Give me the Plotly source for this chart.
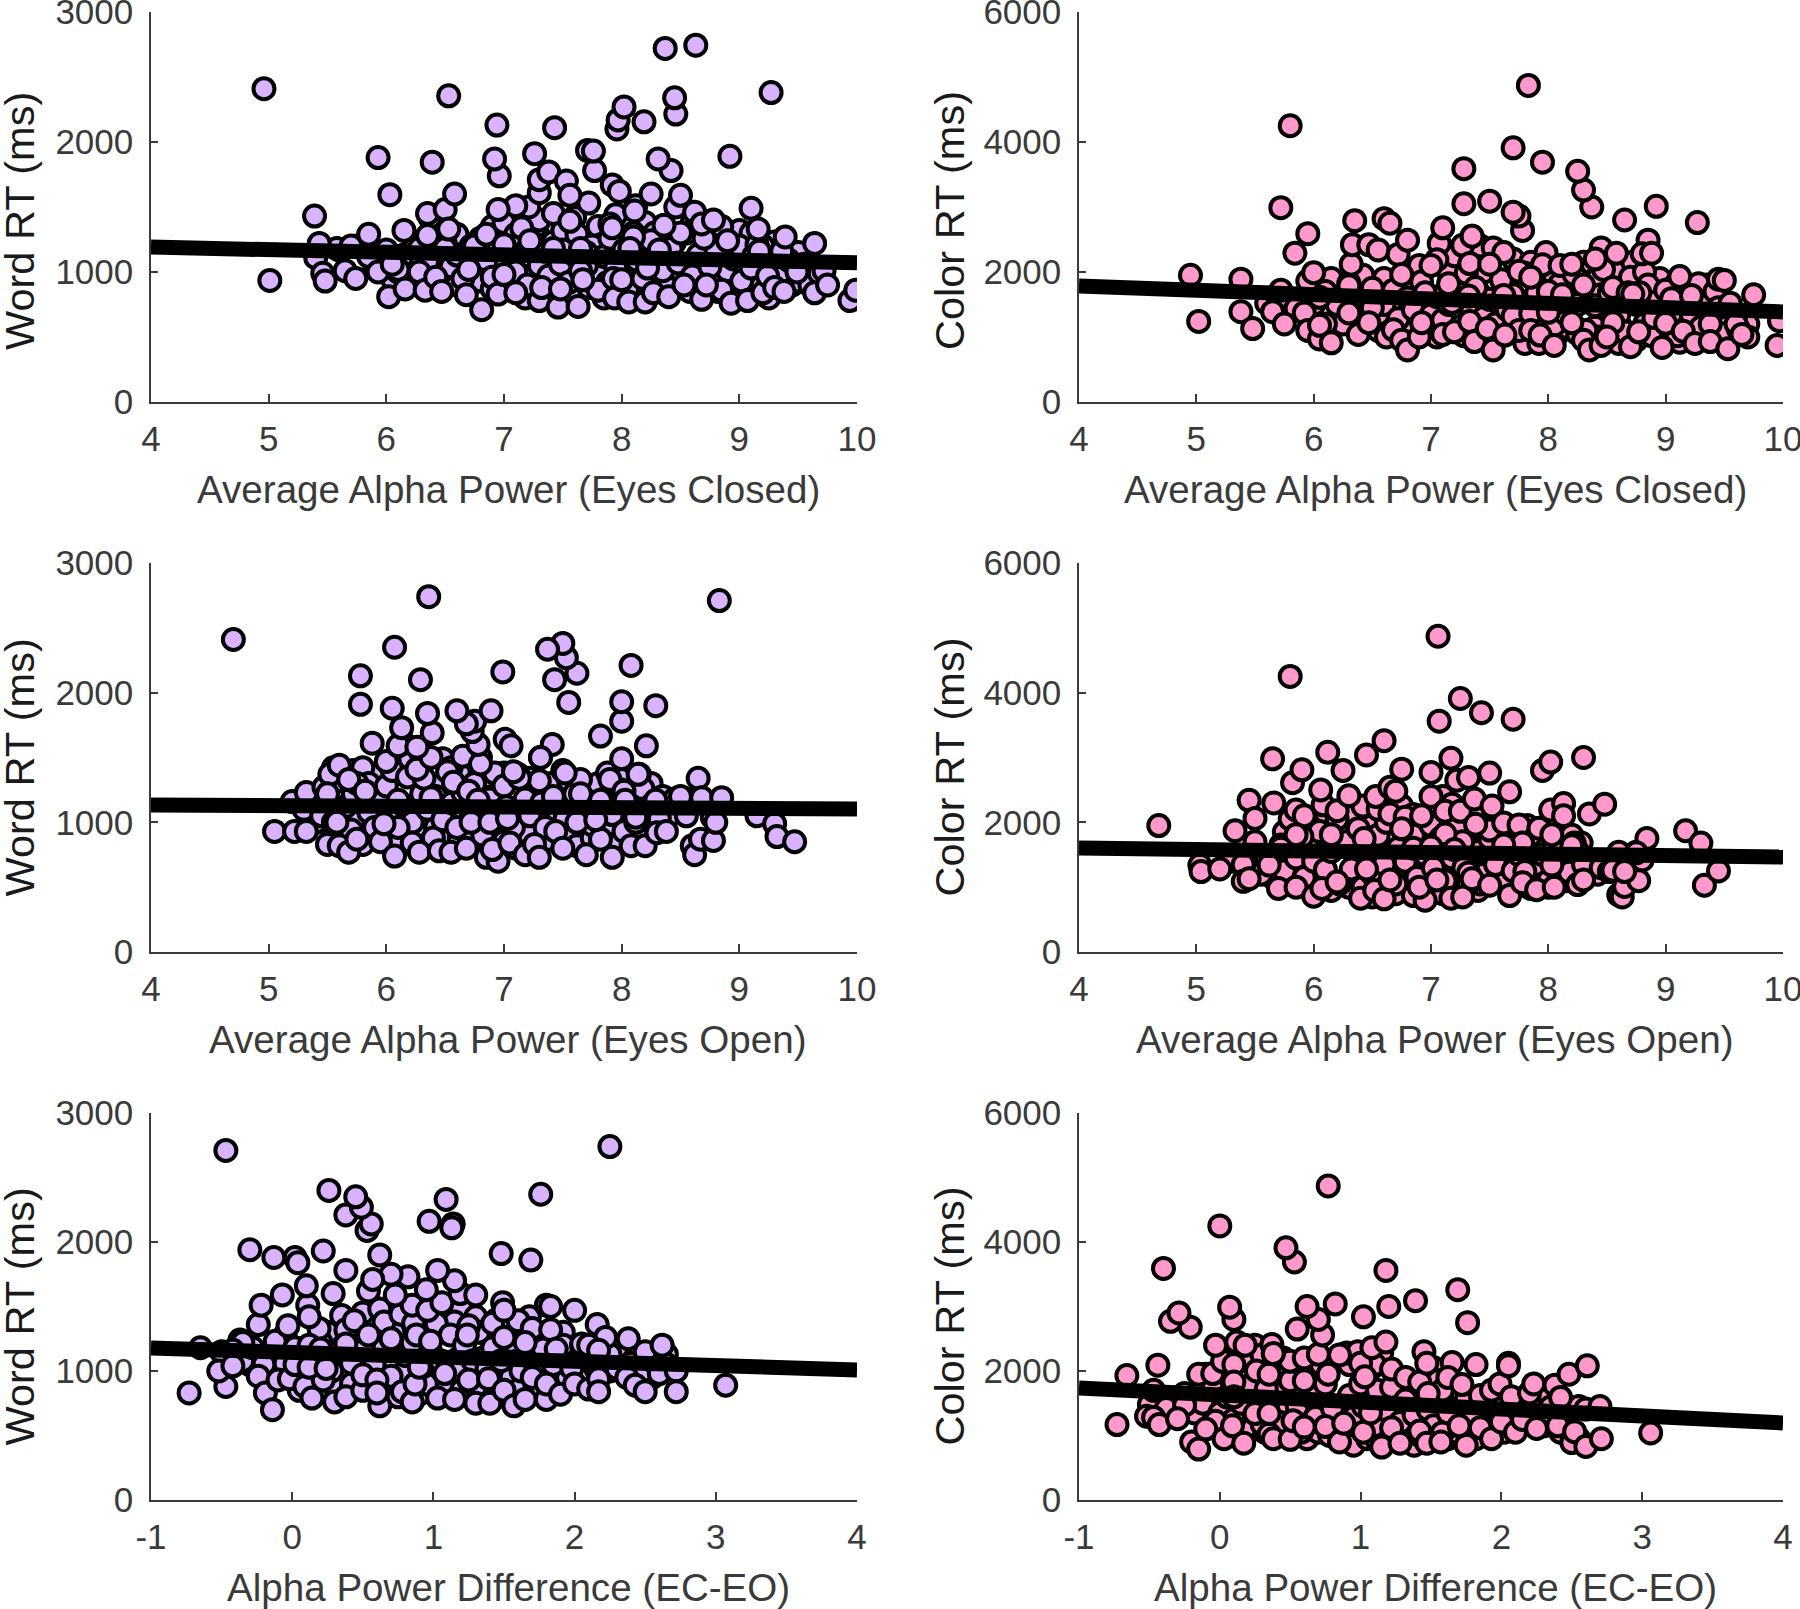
import plotly.graph_objects as go
from plotly.subplots import make_subplots

# values: (alpha power, RT), drawn back to front
word_ec = [
    (6.05,950),(6.2,950),(6.45,1040),(6.6,900),(6.8,930),(6.9,870),(7.08,920),(7.18,800),(7.25,980),(7.4,820),(7.5,960),(7.58,800),
    (7.72,880),(7.78,1000),(7.85,800),(7.88,920),(8.03,1040),(8.12,880),(8.15,1020),(8.3,900),(8.38,950),(8.45,1030),(8.58,850),(8.62,1050),
    (8.78,960),(8.82,850),(8.9,1010),(8.98,830),(9.12,920),(9.18,1050),(9.25,800),(9.4,1010),(9.45,900),(6.4,1250),(6.6,1290),(6.9,1350),
    (7.25,1300),(7.45,1350),(7.6,1420),(7.8,1350),(7.95,1440),(8.2,1380),(8.4,1280),(8.6,1380),(8.8,1300),(9.0,1320),(9.1,1300),(9.3,1230),
    (9.5,1150),(5.9,1050),(6.25,1070),(6.65,1070),(7.15,1160),(7.28,1210),(7.58,1240),(7.82,1210),(8.28,1300),(8.45,1230),(8.72,1170),
    (5.6,1170),(5.75,1200),(5.85,1120),(6.0,1170),(6.1,1000),(6.15,1130),(6.25,1200),(6.3,1090),(6.4,1150),(6.5,1220),
    (6.55,1040),(6.6,1130),(6.65,950),(6.72,1200),(6.8,1260),(6.85,1090),(6.9,960),(6.95,1180),(7.02,1080),(7.05,1250),
    (7.1,1000),(7.15,1310),(7.2,900),(7.22,1120),(7.3,1050),(7.35,1160),(7.38,970),(7.42,1230),(7.48,1060),(7.5,1320),
    (7.55,920),(7.6,1130),(7.62,1290),(7.7,1050),(7.75,1200),(7.8,860),(7.85,1120),(7.9,1260),(7.95,1030),(8.02,1170),
    (8.05,860),(8.1,1300),(8.13,1090),(8.18,950),(8.25,1240),(8.3,1110),(8.35,1010),(8.42,1180),(8.48,1070),(8.55,1300),
    (8.6,970),(8.65,1130),(8.75,1040),(8.8,1180),(8.85,860),(8.95,1100),(9.0,1200),(9.05,990),(9.12,1120),(9.2,1200),
    (9.28,1060),(9.35,960),(9.42,1090),(9.5,930),(9.55,1060),(9.6,900),(9.68,990),(9.72,1010),
    (6.1,1020),(6.35,1080),(6.7,1150),(7.0,1380),(7.1,1290),(7.3,1400),(7.5,1170),(7.7,1150),(7.9,1370),(8.1,1270),
    (8.5,1300),(8.7,1260),(8.85,1350),(9.15,1210),(5.58,1180),(6.15,1320),(6.28,1180),(6.5,1180),(6.75,1200),(6.85,1290),
    (7.0,1210),(7.15,1340),(7.22,1240),(7.42,1180),(7.65,1180),(8.07,1180),(8.32,1170),(8.9,1240),(9.17,1160),(9.36,1160),
    (5.39,1430),(5.43,1220),(5.7,1200),(5.85,1290),(6.37,1420),(6.35,1450),(6.5,1480),(6.53,1330),(6.35,1280),
    (7.21,1500),(7.1,1510),(6.95,1480),(7.42,1450),(7.56,1390),(7.72,1530),(7.92,1340),(8.12,1510),(8.11,1470),
    (8.36,1360),(8.46,1500),(8.5,1590),(8.62,1460),(8.68,1370),(8.78,1400),(9.1,1490),(9.16,1330),(9.39,1270),(9.64,1220),
    (7.3,1610),(7.3,1710),(7.38,1770),(7.53,1700),(7.56,1590),(7.92,1670),(7.98,1620),(8.25,1600),(6.58,1600),(6.03,1595),
    (8.42,1780),(8.31,1870),(8.92,1890),(7.77,1780),(7.71,1935),(7.76,1930),(7.26,1910),(6.96,1740),(6.92,1870),(6.39,1845),(5.93,1880),
    (7.43,2110),(6.94,2130),(8.19,2155),(7.96,2100),(7.97,2170),(8.02,2270),(8.46,2215),(8.45,2340),(6.53,2355),(9.27,2380),(8.63,2745),(8.37,2720),(4.96,2410),
    (5.01,935),(5.4,1110),(5.46,990),(5.48,930),(5.65,1010),(5.74,950),(5.93,1000),(6.02,810),(6.05,1060),(6.16,870),(6.28,1000),
    (6.33,860),(6.42,960),(6.47,850),(6.68,825),(6.7,1020),(6.81,710),(6.95,830),(7.0,980),(7.1,840),(7.3,780),(7.32,880),
    (7.46,730),(7.48,870),(7.63,735),(7.65,1010),(7.67,940),(7.93,950),(7.94,800),(8.0,940),(8.06,770),(8.2,770),(8.22,1030),
    (8.27,840),(8.4,810),(8.53,900),(8.68,790),(8.72,900),(8.93,760),(9.02,930),(9.07,780),(9.1,1030),(9.2,840),(9.24,970),
    (9.3,880),(9.38,850),(9.49,1000),(9.64,840),(9.75,900),(9.94,780),(9.99,860),
]
color_ec = [
    (6.1,1100),(6.25,1200),(6.4,1280),(6.55,1100),(6.62,1000),(6.85,1150),(6.98,1100),(7.05,1000),(7.15,1100),(7.22,1300),(7.28,1020),(7.42,1050),
    (7.58,1000),(7.7,1150),(7.8,900),(7.88,1200),(8.0,1000),(8.08,1050),(8.15,1150),(8.25,1050),(8.4,1150),(8.42,1000),(8.6,900),(8.62,1150),
    (8.75,950),(8.82,1200),(8.88,1020),(9.05,1000),(9.12,920),(9.2,1200),(9.32,1020),(9.45,1130),(9.55,1250),(9.7,1200),(6.15,1900),(6.42,1950),
    (6.6,1900),(6.85,1750),(6.9,2100),(7.15,2000),(7.2,2250),(7.42,2400),(7.45,2000),(7.7,2200),(7.85,2150),(8.05,1950),(8.15,2000),(8.3,2150),
    (8.42,1900),(8.6,2050),(8.72,2150),(8.95,1900),(9.08,1800),(9.3,1600),(9.35,1800),(6.9,1500),(7.3,1500),(7.7,1650),(8.45,1650),(9.6,1350),
    (5.6,1520),(5.7,1600),(5.85,1440),(6.0,1500),(6.1,1700),(6.2,1500),(6.3,1830),(6.4,1640),(6.5,1750),(6.55,1350),
    (6.6,1500),(6.68,1720),(6.72,1280),(6.8,1600),(6.85,1420),(6.92,1850),(7.0,1340),(7.05,1620),(7.1,1260),(7.15,1500),
    (7.2,1790),(7.25,1160),(7.3,1980),(7.35,1420),(7.4,1700),(7.45,1300),(7.5,1580),(7.55,1200),(7.6,1880),(7.65,1420),
    (7.7,1320),(7.75,1100),(7.8,1980),(7.85,1360),(7.9,1680),(8.0,1500),(8.05,1180),(8.1,1820),(8.15,1350),(8.22,1960),
    (8.28,1620),(8.32,1100),(8.4,1480),(8.47,2040),(8.52,1680),(8.6,1340),(8.65,1080),(8.7,1920),(8.75,1500),(8.82,2000),
    (8.85,1800),(8.92,1540),(9.0,1720),(9.05,1360),(9.1,1020),(9.18,1640),(9.22,1340),(9.28,1820),(9.3,1150),(9.42,1700),
    (9.45,1450),(9.5,1050),(9.55,1520),(9.62,1120),(9.7,1000),(8.02,1580),(8.1,1540),(8.25,1500),(8.55,1760),(8.68,1680),
    (8.78,1680),(7.62,1640),(7.38,1760),(7.18,1530),(6.95,1680),(6.5,1450),(6.3,1790),(6.05,1610),(6.1,1200),(5.92,1370),
    (4.95,1950),(5.38,1890),(5.72,1720),(5.95,1860),(6.0,1990),(6.32,2120),(6.33,2420),(6.47,2420),(6.55,2340),
    (7.07,2440),(7.27,2410),(7.35,2550),(7.53,2370),(7.62,2300),(6.72,2270),(7.98,2300),(8.45,2370),(8.58,2290),(8.85,2490),(8.8,2280),(8.88,2290),
    (6.75,1960),(7.05,2190),(7.0,2100),(7.33,2130),(7.5,2120),(7.95,2110),(8.1,2100),(8.2,2120),(8.4,2200),(7.75,2010),(7.85,1920),(8.3,1800),
    (9.12,1930),(9.45,1890),(9.5,1870),(9.75,1650),(7.15,1820),(7.32,1630),(8.0,1700),(8.12,1650),(8.72,1660),(9.05,1590),(9.22,1640),
    (5.84,2290),(5.95,2590),(6.8,2490),(7.1,2680),(7.35,2550),(6.35,2790),(6.6,2820),(6.65,2750),(9.27,2760),(8.92,3010),(8.65,2800),
    (5.72,2990),(7.78,2640),(7.75,2860),(7.7,2920),(7.5,3090),(7.28,3050),(8.37,3000),(8.3,3260),(8.25,3550),(7.28,3590),(7.95,3690),(7.7,3910),(5.8,4250),(7.83,4870),
    (5.02,1240),(5.38,1390),(5.48,1130),(5.65,1390),(5.75,1200),(5.95,1100),(6.05,970),(6.05,1180),(6.15,910),(6.3,1370),(6.38,1040),
    (6.47,1220),(6.68,1110),(6.75,950),(6.8,800),(6.9,1000),(6.92,1220),(7.1,1040),(7.2,1080),(7.33,1240),(7.37,930),(7.48,1130),
    (7.53,800),(7.63,1030),(7.85,1100),(7.92,900),(7.93,1030),(8.05,870),(8.0,1380),(8.2,1220),(8.3,950),(8.35,800),(8.45,870),
    (8.55,1220),(8.5,1000),(8.7,850),(8.77,1080),(8.9,1300),(8.97,840),(9.0,1210),(9.15,1090),(9.25,900),(9.38,1200),(9.38,930),
    (9.53,820),(9.6,1200),(9.65,1040),(9.95,870),(9.97,1250),
]
word_eo = [
    (5.4,1000),(5.55,900),(5.65,1230),(5.75,1050),(5.8,830),(5.92,1130),(6.0,900),(6.12,1050),(6.25,920),(6.35,830),(6.42,960),(6.5,850),
    (6.62,880),(6.72,920),(6.8,1050),(6.92,920),(7.0,850),(7.1,800),(7.15,1020),(7.22,900),(7.38,870),(7.42,1080),(7.55,880),(7.62,820),
    (7.68,1100),(7.75,880),(7.88,950),(7.98,850),(8.12,920),(8.22,1020),(8.35,1100),(8.4,1050),(8.55,1050),(5.55,1420),(5.72,1400),(5.95,1380),
    (6.2,1490),(6.3,1520),(6.45,1280),(6.48,1490),(6.62,1380),(6.9,1280),(7.0,1380),(7.22,1340),(7.4,1300),(7.7,1270),(7.8,1300),(7.98,1340),
    (8.1,1220),(8.25,1300),(8.35,1200),(6.9,1200),(7.3,1100),(7.6,1130),
    (5.3,1100),(5.4,1200),(5.45,1050),(5.5,1250),(5.55,1000),(5.6,1320),(5.65,1120),(5.7,940),(5.72,1220),(5.8,1420),
    (5.85,1080),(5.85,1300),(5.9,960),(5.95,1180),(6.0,1280),(6.02,1020),(6.05,1400),(6.1,870),(6.15,1130),(6.18,1350),
    (6.22,1000),(6.3,1220),(6.32,1340),(6.35,1100),(6.4,880),(6.42,1200),(6.48,1020),(6.55,1420),(6.56,1150),(6.6,960),
    (6.65,1230),(6.72,1080),(6.75,1300),(6.8,1500),(6.82,900),(6.88,1180),(6.92,1380),(6.95,1020),(7.0,1280),(7.02,1120),
    (7.08,960),(7.12,1370),(7.18,1180),(7.22,1050),(7.3,1320),(7.32,1150),(7.35,960),(7.42,1200),(7.5,1400),(7.52,1030),
    (7.55,1320),(7.6,1220),(7.65,1330),(7.7,1100),(7.75,980),(7.85,1180),(7.88,1380),(7.92,1060),(8.0,1250),(8.02,930),
    (8.06,1150),(8.12,1000),(8.15,1370),(8.18,1260),(8.25,1130),(8.32,1030),(8.45,1180),(8.55,1180),(8.72,1150),(8.77,1040),
    (5.2,1160),(5.32,1230),(5.47,1270),(5.52,1370),(5.6,1440),(5.75,1300),(5.68,1330),(5.5,1220),(5.82,1240),
    (6.1,1170),(6.0,1470),(6.26,1410),(6.38,1500),(6.52,1390),(6.57,1310),(6.65,1510),(6.8,1450),(6.38,1190),(6.7,1240),(6.78,1170),
    (7.13,1340),(7.31,1500),(7.08,1390),(7.52,1380),(7.65,1220),(7.82,1170),(7.9,1330),(8.0,1490),(8.02,1240),(8.03,1170),(8.14,1370),(8.29,1170),
    (6.15,1610),(5.88,1610),(6.1,1590),(6.26,1580),(7.01,1640),(7.06,1590),(7.41,1600),(7.82,1665),(8.21,1590),(7.31,1500),
    (6.78,1600),(6.73,1700),(6.75,1780),(6.68,1760),(6.39,1690),(6.13,1730),(8.0,1780),(8.29,1900),(8.0,1930),(7.55,1925),(6.89,1860),(6.6,1860),(6.35,1840),(6.05,1880),(5.78,1910),
    (8.08,2210),(6.29,2100),(5.78,2130),(6.99,2160),(7.43,2100),(7.62,2150),(7.53,2270),(7.5,2380),(7.37,2335),(6.07,2350),(8.83,2710),(6.36,2740),(4.7,2410),
    (5.05,930),(5.22,930),(5.32,930),(5.5,830),(5.6,820),(5.68,770),(5.75,870),(5.95,850),(6.07,740),(6.1,960),(6.22,840),(6.28,770),
    (6.45,780),(6.55,770),(6.68,800),(6.85,730),(6.95,700),(6.9,790),(7.05,840),(7.18,750),(7.26,830),(7.3,730),(7.44,930),(7.5,800),
    (7.7,750),(7.82,870),(7.92,730),(8.08,820),(8.2,820),(8.3,920),(8.38,930),(8.6,820),(8.62,750),(8.67,870),(8.78,860),(8.8,1000),
    (8.65,1340),(8.68,1190),(8.85,1190),(8.5,1200),(9.15,1050),(9.3,990),(9.32,890),(9.47,850),
    (5.58,1000),(5.98,990),(6.72,1000),(6.88,1000),(7.03,1030),(7.62,1000),(7.78,1020),(8.12,1040),
]
color_eo = [
    (5.45,1500),(5.55,1350),(5.65,1150),(5.8,1200),(5.95,1000),(6.1,1100),(6.15,950),(6.3,1000),(6.35,1150),(6.4,1450),(6.5,850),(6.58,1200),
    (6.7,900),(6.75,1250),(6.82,1050),(6.92,1200),(7.0,950),(7.1,900),(7.15,1280),(7.22,1000),(7.4,950),(7.42,1050),(7.58,1200),(7.65,1100),
    (7.72,1000),(7.85,980),(7.95,1200),(8.0,1000),(8.15,1100),(8.2,1300),(8.35,1350),(8.42,1200),(5.75,1850),(5.8,2050),(6.0,2000),(6.1,2150),
    (6.2,1900),(6.32,2100),(6.42,2250),(6.5,1950),(6.6,2200),(6.75,2250),(6.85,1950),(6.95,1800),(7.08,2000),(7.1,2400),(7.18,2280),(7.3,2100),
    (7.4,2150),(7.55,2000),(7.6,1800),(7.72,1850),(7.82,1950),(8.2,1800),(8.28,1680),
    (5.3,1400),(5.4,1350),(5.5,1700),(5.55,1200),(5.6,1450),(5.72,1650),(5.75,1250),(5.85,1450),(5.92,1150),(5.95,1720),
    (6.0,1400),(6.05,1860),(6.1,1270),(6.15,1550),(6.2,2050),(6.22,1050),(6.28,1700),(6.32,1280),(6.38,1900),(6.42,1000),
    (6.45,1550),(6.5,1200),(6.55,1800),(6.6,1350),(6.62,2000),(6.7,1050),(6.72,1600),(6.78,1400),(6.85,1800),(6.88,1150),
    (6.95,1500),(7.0,1950),(7.02,1300),(7.08,1750),(7.12,1100),(7.18,1450),(7.22,1950),(7.28,1300),(7.32,1050),(7.4,1550),
    (7.42,1900),(7.45,1200),(7.5,1750),(7.55,1350),(7.62,1050),(7.65,1650),(7.7,1250),(7.75,1500),(7.82,1150),(7.85,1800),
    (7.9,1350),(7.95,1500),(8.0,1100),(8.05,1650),(8.12,1400),(8.18,1230),(8.22,1680),(8.25,1550),(8.3,1350),(8.45,1300),
    (8.52,1240),(8.62,1500),(8.68,1100),(8.75,1540),(8.8,1420),(5.9,1780),(6.55,2200),(6.85,2120),(7.27,1700),(7.5,1880),
    (4.68,1950),(5.33,1870),(5.45,2340),(5.5,2060),(5.66,2300),(5.85,2190),(5.92,2100),(6.08,2270),(6.2,2180),(6.3,2410),
    (6.53,2400),(6.65,2540),(6.7,2480),(6.65,2130),(6.78,2080),(6.92,2100),(7.0,2400),(7.12,2170),(7.25,2170),(7.37,2360),(7.52,2250),(7.67,2470),
    (5.82,2610),(5.9,2810),(6.06,2500),(6.25,2800),(6.75,2820),(7.0,2770),(7.22,2650),(7.32,2690),(7.5,2760),(7.95,2800),(8.02,2930),(8.3,3000),
    (7.17,2990),(5.65,2980),(6.45,3040),(6.12,3080),(6.6,3260),(7.7,3590),(7.07,3560),(7.43,3690),(7.25,3910),(5.8,4250),(7.06,4870),
    (8.02,2190),(8.13,2290),(8.13,2100),(8.35,2130),(8.48,2280),(7.62,1990),(7.75,1960),(7.92,1910),(8.03,1810),(7.38,1970),(9.17,1870),(9.3,1680),
    (8.84,1750),(6.15,1810),(5.85,1810),(7.78,1680),(6.43,1750),(6.75,1900),(7.12,1820),(5.72,1600),(6.85,1600),(7.0,1620),(7.2,1580),(7.62,1650),(8.2,1640),(8.6,1540),(8.75,1530),
    (5.03,1340),(5.04,1240),(5.2,1280),(5.4,1090),(5.45,1130),(5.62,1340),(5.7,980),(5.85,1000),(6.0,860),(6.07,980),(6.2,1080),(6.4,830),
    (6.45,1280),(6.52,950),(6.6,820),(6.65,1110),(6.85,870),(6.95,800),(6.9,1000),(7.05,1110),(7.17,830),(7.27,850),(7.32,1220),(7.35,1130),
    (7.5,1030),(7.67,870),(7.8,1240),(7.78,1070),(7.9,960),(8.05,1000),(8.03,1340),(8.25,1040),(8.3,1110),(8.6,880),(8.63,850),(8.65,1010),
    (8.77,1100),(8.55,1260),(9.33,1030),(9.45,1250),(8.65,1240),
]
word_diff = [
    (-0.3,1050),(-0.15,1130),(-0.05,1280),(0.05,850),(0.12,950),(0.2,850),(0.3,880),(0.35,1270),(0.42,900),(0.55,880),(0.68,1080),(0.75,800),
    (0.8,1000),(0.9,820),(0.95,900),(1.0,1060),(1.1,880),(1.2,850),(1.18,1100),(1.3,880),(1.35,1100),(1.45,800),(1.45,1000),(1.55,950),
    (1.6,850),(1.72,880),(1.85,950),(1.95,950),(2.05,1000),(2.15,1020),(2.25,1000),(2.35,1100),(2.45,1120),(2.55,950),(2.65,1130),(0.25,1300),
    (0.5,1450),(0.62,1480),(0.9,1400),(1.1,1470),(1.2,1480),(1.3,1420),(1.38,1280),(1.68,1420),(1.92,1300),(2.2,1250),(2.3,1180),(2.05,1120),
    (1.75,1250),(0.95,1340),(1.15,1380),(1.45,1400),
    (-0.45,1120),(-0.35,1080),(-0.28,1180),(-0.2,1050),(-0.12,1230),(-0.05,1060),(0.02,1180),(0.08,980),(0.15,1100),(0.2,1230),
    (0.28,1000),(0.33,1150),(0.42,1060),(0.45,1280),(0.52,1180),(0.58,1050),(0.65,1180),(0.7,960),(0.72,1300),(0.8,1120),
    (0.85,1220),(0.92,1030),(0.98,1150),(1.02,1370),(1.05,1080),(1.12,1280),(1.18,1000),(1.22,1200),(1.28,1080),(1.32,1300),
    (1.38,1020),(1.42,1180),(1.48,1080),(1.52,1360),(1.58,1130),(1.62,1000),(1.68,1200),(1.72,1060),(1.78,1170),(1.85,1050),
    (1.92,1200),(1.98,1020),(2.05,1190),(2.12,1080),(2.2,1000),(2.25,1130),(2.3,1020),(2.4,1060),(2.48,1000),(2.55,1080),(2.65,1050),
    (-0.37,1240),(-0.35,1220),(-0.5,1150),(-0.42,1160),(-0.24,1360),(-0.03,1350),(0.19,1330),(0.35,1430),(0.38,1320),(0.44,1390),(0.65,1380),(0.77,1440),
    (0.86,1370),(1.25,1350),(1.42,1370),(1.6,1390),(1.7,1330),(1.83,1320),(2.16,1360),(2.22,1260),(2.05,1210),(2.1,1200),(0.54,1280),(0.88,1280),(1.55,1230),
    (0.12,1200),(0.38,1210),(0.7,1250),(0.98,1230),(1.24,1280),(1.5,1260),(-0.65,1180),(1.65,1220),(1.87,1170),(2.17,1160),(2.38,1250),(2.5,1150),(2.62,1200),
    (-0.22,1510),(-0.07,1590),(0.11,1510),(0.12,1420),(0.85,1510),(0.96,1470),(1.49,1530),(1.5,1470),(1.8,1510),(1.83,1500),(2.0,1470),(1.06,1530),
    (0.29,1600),(0.54,1620),(0.73,1590),(0.95,1630),(1.19,1600),(1.3,1590),(0.1,1660),(1.15,1700),(1.03,1780),(0.82,1730),(0.7,1750),(0.57,1710),(0.38,1780),
    (1.69,1860),(1.48,1910),(0.62,1900),(0.22,1930),(0.02,1880),(0.04,1840),(-0.13,1880),(-0.3,1940),(1.14,2140),(1.13,2110),(0.97,2160),(1.76,2370),(1.09,2330),
    (0.53,2090),(0.56,2140),(0.38,2210),(0.49,2270),(0.45,2350),(0.26,2400),(2.25,2740),(-0.47,2710),
    (-0.73,830),(-0.47,880),(-0.52,1000),(-0.42,1040),(-0.24,960),(-0.19,830),(-0.14,700),(-0.1,930),(-0.02,940),(0.09,880),(0.14,790),
    (0.22,930),(0.3,760),(0.38,800),(0.5,850),(0.5,970),(0.6,930),(0.62,730),(0.6,830),(0.78,840),(0.85,760),(0.87,900),(1.03,790),
    (1.08,980),(1.15,780),(1.25,930),(1.3,750),(1.4,750),(1.39,940),(1.5,850),(1.57,730),(1.65,780),(1.7,950),(1.8,780),(1.8,900),
    (1.9,820),(2.0,900),(2.1,860),(2.17,940),(2.17,840),(2.37,950),(2.43,890),(2.5,840),(2.6,980),(2.72,1000),(2.72,840),(3.07,890),
    (0.02,1050),(0.12,1030),(0.24,1020),(0.2,1170),(0.9,1030),
]
color_diff = [
    (-0.48,1600),(-0.3,1500),(-0.18,1350),(-0.05,1150),(0.05,1050),(0.12,1150),(0.18,1100),(0.22,1400),(0.32,1050),(0.42,1020),(0.48,1400),(0.62,950),
    (0.7,1050),(0.78,1000),(0.9,950),(0.95,850),(1.05,950),(1.12,920),(1.2,950),(1.32,950),(1.38,850),(1.52,950),(1.62,950),(1.7,980),
    (1.82,950),(1.9,1100),(2.02,1050),(2.1,1250),(2.2,1220),(2.3,1150),(2.45,1100),(2.55,950),(-0.1,1950),(0.05,2300),(0.12,2450),(0.25,2400),
    (0.3,2050),(0.45,2200),(0.48,1950),(0.65,2000),(0.72,2100),(0.92,2100),(1.08,2050),(1.12,2200),(1.28,1850),(1.35,1700),(1.52,2050),(1.55,1850),
    (1.72,1650),(1.9,1500),(2.12,1550),(2.3,1600),(1.0,1300),(0.6,1700),
    (-0.5,1480),(-0.38,1420),(-0.25,1650),(-0.12,1500),(-0.05,1720),(0.0,1350),(0.05,1600),(0.1,1250),(0.15,1500),(0.22,1780),
    (0.28,1500),(0.3,1180),(0.4,1650),(0.43,1200),(0.5,1850),(0.55,1450),(0.58,1050),(0.65,1600),(0.68,1280),(0.75,1800),
    (0.8,1420),(0.85,1050),(0.92,1620),(0.95,1280),(1.0,1800),(1.02,1450),(1.1,1150),(1.12,1700),(1.18,1400),(1.22,1750),
    (1.28,1200),(1.32,1550),(1.38,1320),(1.42,1000),(1.48,1400),(1.52,1150),(1.58,1700),(1.62,1350),(1.68,1050),(1.75,1550),
    (1.8,1300),(1.88,1480),(1.95,1150),(2.02,1450),(2.08,1150),(2.12,1320),(2.2,1520),(2.3,1300),(2.35,1440),(2.42,1050),
    (2.45,1360),(2.55,1450),(2.6,1410),(0.9,2280),(0.98,2300),(1.15,2280),(1.1,2100),(0.2,2150),(0.3,2250),(0.5,2150),
    (-0.66,1930),(-0.44,2090),(-0.47,1700),(-0.15,1950),(-0.05,1960),(0.02,2150),(0.1,2100),(0.1,1830),(0.1,1600),(0.26,2000),(0.33,1720),(0.35,1950),
    (0.38,2270),(0.6,2200),(0.6,1850),(0.7,2260),(0.85,2250),(0.77,1950),(1.0,2120),(1.03,1910),(1.22,2030),(1.32,1900),(1.42,1830),(1.48,1650),
    (1.45,2300),(1.47,2120),(1.65,2130),(1.62,1900),(1.72,1790),(1.82,2100),(1.85,1620),(1.93,1700),(1.99,1800),(2.05,2120),(2.05,2080),(2.07,1600),
    (2.2,1660),(2.23,1800),(2.38,1780),(2.42,1590),(2.48,1950),(2.61,2080),
    (-0.03,2400),(0.18,2400),(0.37,2410),(0.38,2270),(1.08,2360),(1.18,2450),(0.73,2560),(0.55,2650),(-0.21,2680),(-0.35,2770),(-0.29,2900),(0.1,2800),
    (0.7,2800),(1.02,2840),(1.76,2750),(0.07,2990),(0.62,3000),(0.82,3040),(1.2,3000),(1.39,3090),(1.69,3260),(1.18,3560),(-0.4,3590),(0.53,3690),(0.47,3910),(0.0,4250),(0.77,4870),
    (-0.73,1170),(-0.52,1300),(-0.47,1280),(-0.43,1170),(-0.25,1470),(-0.3,1260),(-0.2,900),(-0.15,790),(-0.03,1220),(-0.1,1100),(0.03,950),
    (0.09,1150),(0.17,880),(0.25,1340),(0.35,1020),(0.35,1340),(0.38,950),(0.5,940),(0.52,1230),(0.6,1130),(0.75,1140),(0.85,900),(0.88,1190),
    (1.02,1050),(1.07,1350),(1.15,820),(1.22,1120),(1.28,880),(1.42,1070),(1.47,880),(1.58,1040),(1.57,900),(1.75,850),(1.7,1150),(1.85,1120),
    (1.93,950),(2.0,1210),(2.1,1050),(2.15,1250),(2.25,1110),(2.4,1150),(2.5,890),(2.52,1060),(2.6,830),(2.7,1450),(2.71,950),(3.06,1040),
]

# fit lines, end values read at the axis limits
fit_x_ec = [4, 10]
fit_x_eo = [4, 10]
fit_x_diff = [-1, 4]
fit_word_ec = [1192, 1071]
fit_color_ec = [1785, 1385]
fit_word_eo = [1134, 1103]
fit_color_eo = [1604, 1465]
fit_word_diff = [1178, 1008]
fit_color_diff = [1736, 1194]

alpha_ticks = [4, 5, 6, 7, 8, 9, 10]
diff_ticks = [-1, 0, 1, 2, 3, 4]
word_ticks = [0, 1000, 2000, 3000]
color_ticks = [0, 2000, 4000, 6000]

PURPLE = "#D9B3FF"
PINK = "#FF99CC"
GREY = "#3A3A3A"
FONT = "Liberation Sans"

panels = [
    (1, 1, word_ec, fit_x_ec, fit_word_ec, PURPLE, "Average Alpha Power (Eyes Closed)", "Word RT (ms)", alpha_ticks, word_ticks),
    (1, 2, color_ec, fit_x_ec, fit_color_ec, PINK, "Average Alpha Power (Eyes Closed)", "Color RT (ms)", alpha_ticks, color_ticks),
    (2, 1, word_eo, fit_x_eo, fit_word_eo, PURPLE, "Average Alpha Power (Eyes Open)", "Word RT (ms)", alpha_ticks, word_ticks),
    (2, 2, color_eo, fit_x_eo, fit_color_eo, PINK, "Average Alpha Power (Eyes Open)", "Color RT (ms)", alpha_ticks, color_ticks),
    (3, 1, word_diff, fit_x_diff, fit_word_diff, PURPLE, "Alpha Power Difference (EC-EO)", "Word RT (ms)", diff_ticks, word_ticks),
    (3, 2, color_diff, fit_x_diff, fit_color_diff, PINK, "Alpha Power Difference (EC-EO)", "Color RT (ms)", diff_ticks, color_ticks),
]

W, H = 1800, 1609
col_px = {1: (151, 857), 2: (1079, 1783)}
row_px = {1: (12, 402), 2: (563, 952), 3: (1113, 1500)}
ytitle_xshift = {1: -132, 2: -130}
ytitle_yshift = {1: -14, 2: -10, 3: -10}

fig = make_subplots(rows=3, cols=2)

for i, (row, col, pts, fit_x, fit_y, colour, xtitle, ytitle, xticks, yticks) in enumerate(panels):
    xs, ys = zip(*pts)
    fig.add_trace(go.Scatter(x=xs, y=ys, mode="markers", showlegend=False,
                             marker=dict(size=21, color=colour, line=dict(color="black", width=4))),
                  row=row, col=col)
    fig.add_trace(go.Scatter(x=fit_x, y=fit_y, mode="lines", showlegend=False,
                             line=dict(color="black", width=15)),
                  row=row, col=col)
    x0, x1 = col_px[col]
    y0, y1 = row_px[row]
    fig.update_xaxes(domain=[x0 / W, x1 / W], range=[xticks[0], xticks[-1]], tickvals=xticks,
                     ticktext=[str(t) for t in xticks], ticklabeloverflow="allow",
                     ticks="inside", ticklen=8, tickwidth=1.5, tickcolor=GREY,
                     showgrid=False, zeroline=False, showline=True, linecolor=GREY, linewidth=1.5,
                     ticklabelstandoff=5, tickfont=dict(family=FONT, size=35, color=GREY),
                     automargin=False, row=row, col=col)
    fig.update_yaxes(domain=[1 - y1 / H, 1 - y0 / H], range=[yticks[0], yticks[-1]], tickvals=yticks,
                     ticklabeloverflow="allow",
                     ticks="inside", ticklen=7, tickwidth=1.5, tickcolor=GREY,
                     showgrid=False, zeroline=False, showline=True, linecolor=GREY, linewidth=1.5,
                     ticklabelstandoff=9, tickfont=dict(family=FONT, size=35, color=GREY),
                     automargin=False, row=row, col=col)
    # axis titles sit at fixed offsets from the panel
    xref = "x domain" if i == 0 else f"x{i + 1} domain"
    yref = "y domain" if i == 0 else f"y{i + 1} domain"
    fig.add_annotation(text=xtitle, xref=xref, yref=yref, x=0.5, y=0, xshift=4, yshift=-87, showarrow=False,
                       xanchor="center", yanchor="middle", font=dict(family=FONT, size=38.6, color=GREY))
    fig.add_annotation(text=ytitle, xref=xref, yref=yref, x=0, y=0.5,
                       xshift=ytitle_xshift[col], yshift=ytitle_yshift[row], showarrow=False,
                       textangle=-90, xanchor="center", yanchor="middle", font=dict(family=FONT, size=41.5, color="#1A1A1A"))

fig.update_layout(width=W, height=H, margin=dict(l=0, r=0, t=0, b=0),
                  paper_bgcolor="white", plot_bgcolor="white", showlegend=False)

# page default body margin would push the figure 8px down and right
fig.write_html("out.html", config={"displayModeBar": False},
               post_script="document.body.style.margin = '0';")
